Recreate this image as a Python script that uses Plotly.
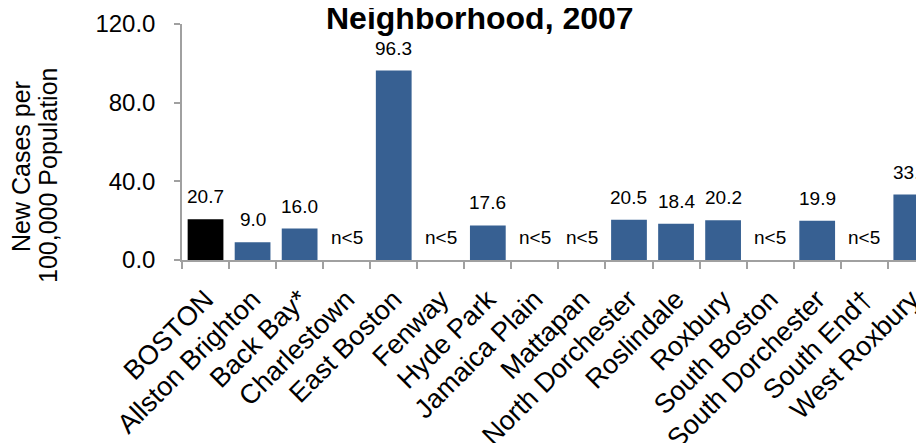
import plotly.graph_objects as go

categories = ["BOSTON", "Allston Brighton", "Back Bay*", "Charlestown", "East Boston",
              "Fenway", "Hyde Park", "Jamaica Plain", "Mattapan", "North Dorchester",
              "Roslindale", "Roxbury", "South Boston", "South Dorchester", "South End\u2020",
              "West Roxbury"]
values = [20.7, 9.0, 16.0, 0, 96.3, 0, 17.6, 0, 0, 20.5, 18.4, 20.2, 0, 19.9, 0, 33.3]
labels = ["20.7", "9.0", "16.0", "n<5", "96.3", "n<5", "17.6", "n<5", "n<5", "20.5",
          "18.4", "20.2", "n<5", "19.9", "n<5", "33.3"]
colors = ["#000000"] + ["#376092"] * (len(categories) - 1)
y_ticks = [0, 40, 80, 120]

FONT = "Arial, Liberation Sans, sans-serif"
OFF = 8  # default page body margin

# plot area in page pixels
PL, PR, PT, PB = 182, 924, 24, 260
W, H = 924 - OFF, 443 - OFF

def px_x(x):
    return (x - PL) / (PR - PL)

def px_y(y):
    return (PB - y) / (PB - PT)

fig = go.Figure()
fig.add_trace(go.Bar(x=categories, y=values, marker=dict(color=colors, line=dict(width=0)),
                     hoverinfo="skip"))

for c, v, t in zip(categories, values, labels):
    fig.add_annotation(x=c, y=v, text=t, showarrow=False, yanchor="bottom",
                       yshift=10, font=dict(family=FONT, size=19, color="#000000"))

fig.add_annotation(xref="paper", yref="paper", x=px_x(480), y=1, yshift=-14,
                   xanchor="center", yanchor="bottom",
                   text="<b>Neighborhood, 2007</b>", showarrow=False,
                   font=dict(family=FONT, size=32, color="#000000"))

fig.add_annotation(xref="paper", yref="paper", x=px_x(21), y=px_y(167),
                   xanchor="center", yanchor="middle", textangle=-90,
                   text="New Cases per", showarrow=False,
                   font=dict(family=FONT, size=25, color="#000000"))
fig.add_annotation(xref="paper", yref="paper", x=px_x(48), y=px_y(176),
                   xanchor="center", yanchor="middle", textangle=-90,
                   text="100,000 Population", showarrow=False,
                   font=dict(family=FONT, size=25, color="#000000"))

fig.update_layout(
    width=W, height=H,
    margin=dict(l=PL - OFF, r=0, t=PT - OFF, b=H - (PB - OFF), autoexpand=False),
    paper_bgcolor="white", plot_bgcolor="white",
    bargap=0.24, showlegend=False,
    font=dict(family=FONT, color="#000000"),
    xaxis=dict(range=[-0.5, 15.27], tickangle=-45, ticks="outside", tickson="boundaries",
               ticklen=7, tickcolor="#A0A0A0", tickwidth=1.5,
               showline=True, linecolor="#A0A0A0", linewidth=1.5,
               ticklabelstandoff=11, automargin=False,
               tickfont=dict(family=FONT, size=27, color="#000000"), showgrid=False),
    yaxis=dict(range=[0, 120], tickvals=y_ticks, tickformat=".1f", ticks="outside",
               ticklen=6, tickcolor="#A0A0A0", tickwidth=1.5,
               showline=True, linecolor="#A0A0A0", linewidth=1.5,
               ticklabelstandoff=14, automargin=False,
               tickfont=dict(family=FONT, size=24, color="#000000"), showgrid=False,
               zeroline=False),
)

fig.write_html("out.html")
